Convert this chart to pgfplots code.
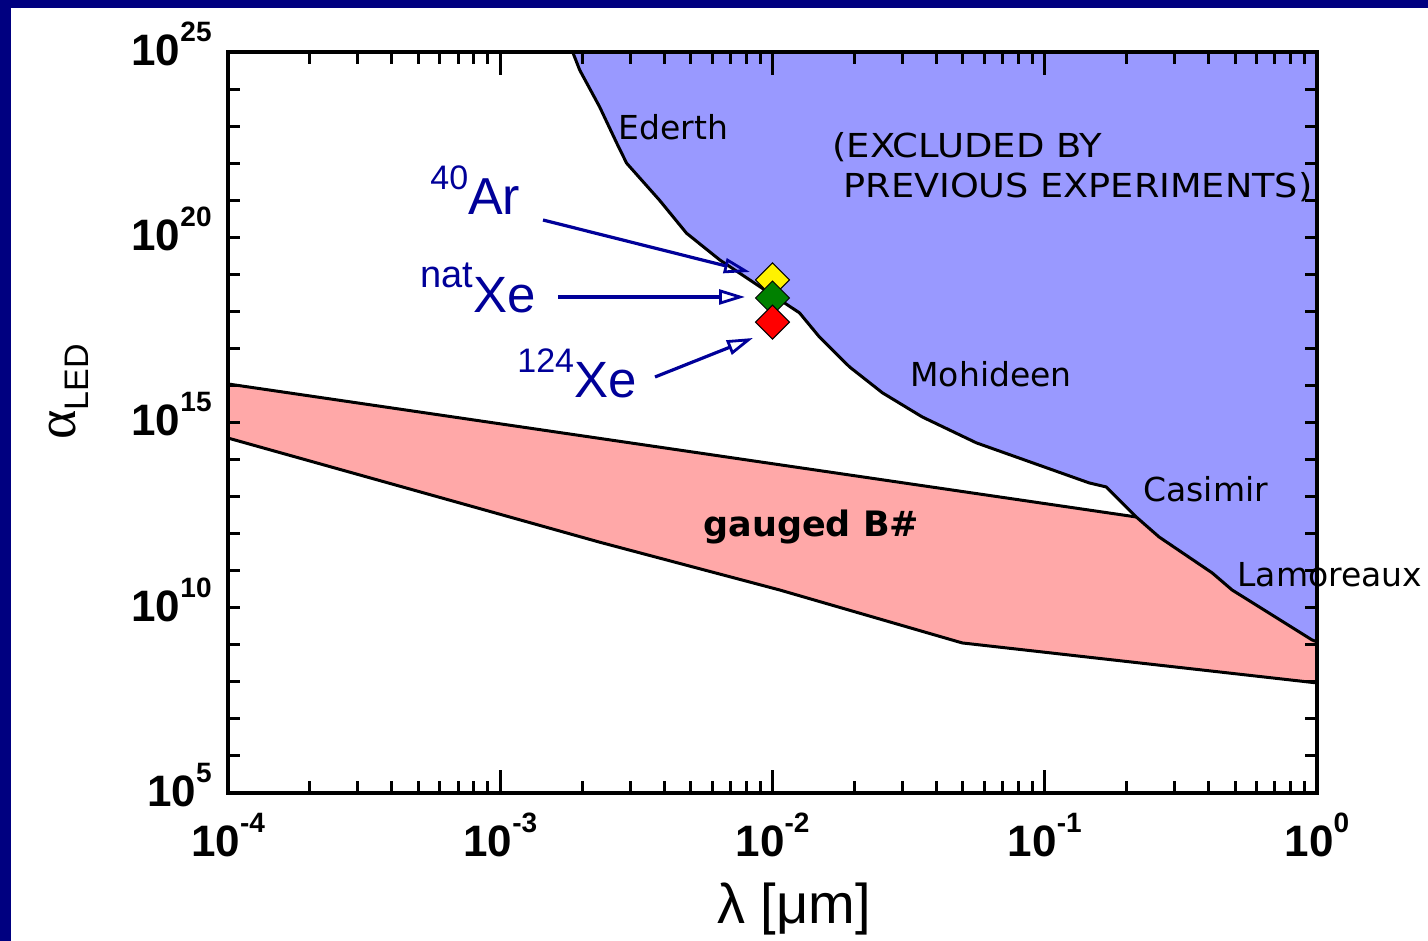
\documentclass[border=0pt]{standalone}
\usepackage{fontspec}
\setmainfont{Liberation Sans}
\newfontfamily\dejavu{DejaVu Sans}
\newfontfamily\lserif{Liberation Serif}
\usepackage{pgfplots}
\pgfplotsset{compat=1.18}
\usetikzlibrary{arrows.meta}
\definecolor{framenavy}{RGB}{0,0,128}
\definecolor{textnavy}{RGB}{0,0,153}
\definecolor{exclblue}{RGB}{153,153,255}
\definecolor{gaugepink}{RGB}{255,168,168}
\definecolor{dgreen}{RGB}{0,128,0}
\newcommand{\tp}[1]{\fontsize{22}{22}\selectfont\bfseries 10\raisebox{12pt}{\fontsize{14}{14}\selectfont #1}}
\begin{document}
\begin{tikzpicture}
\fill[white] (0,0) rectangle (714pt,470.5pt);
\fill[framenavy] (0,466.5pt) rectangle (714pt,470.5pt);
\fill[framenavy] (0,0) rectangle (5.5pt,470.5pt);
\begin{axis}[
  at={(114pt,74pt)}, anchor=south west,
  scale only axis, width=544.5pt, height=370.5pt,
  xmode=log, ymode=log,
  xmin=1e-4, xmax=1, ymin=1e5, ymax=1e25,
  axis on top, clip=false,
  axis line style={line width=2pt},
  every tick/.style={black, line width=1.5pt},
  major tick length=11.5pt, minor tick length=6pt,
  xtick={1e-4,1e-3,1e-2,1e-1,1},
  xticklabels={\tp{-4},\tp{-3},\tp{-2},\tp{-1},\tp{0}},
  minor xtick={2e-4,3e-4,4e-4,5e-4,6e-4,7e-4,8e-4,9e-4,
               2e-3,3e-3,4e-3,5e-3,6e-3,7e-3,8e-3,9e-3,
               2e-2,3e-2,4e-2,5e-2,6e-2,7e-2,8e-2,9e-2,
               0.2,0.3,0.4,0.5,0.6,0.7,0.8,0.9},
  ytick={1e5,1e10,1e15,1e20,1e25},
  yticklabels={\tp{5},\tp{10},\tp{15},\tp{20},\tp{25}},
  major y tick style={draw=none},
  minor ytick={1e6,1e7,1e8,1e9,1e10,1e11,1e12,1e13,1e14,1e15,1e16,1e17,1e18,1e19,1e20,1e21,1e22,1e23,1e24},
  xticklabel style={inner sep=0pt, yshift=-10pt},
  yticklabel style={inner sep=0pt, xshift=-8pt, yshift=4pt},
]
% excluded region
\addplot[draw=none, fill=exclblue] coordinates {
 (1.845e-3,1e25) (1.959e-3,3.236e24) (2.317e-3,3.311e23) (2.679e-3,3.467e22)
 (2.911e-3,1e22) (3.846e-3,1e21) (4.831e-3,1.288e20) (6.397e-3,2.455e19)
 (8.241e-3,7.079e18) (1.256e-2,9.120e17) (1.486e-2,2.042e17) (1.919e-2,3.162e16)
 (2.535e-2,6.310e15) (3.548e-2,1.413e15) (5.610e-2,2.818e14) (0.1455,2.344e13)
 (0.1683,1.820e13) (0.2168,2.818e12) (0.2630,8.128e11) (0.4121,8.710e10)
 (0.4875,3.020e10) (0.9594,1.349e9) (1,1.202e9) (1,1e25)} -- cycle;
% gauged B# band
\addplot[draw=none, fill=gaugepink] coordinates {
 (1e-4,1.096e16) (0.2168,2.818e12) (0.2630,8.128e11) (0.4121,8.710e10)
 (0.4875,3.020e10) (0.9594,1.349e9) (1,1.202e9) (1,9.333e7)
 (0.04977,1.122e9) (0.01062,3.020e10) (2.317e-3,5.888e11) (1e-4,3.802e14)} -- cycle;
% boundary
\addplot[black, line width=1.5pt, line join=round] coordinates {
 (1.845e-3,1e25) (1.959e-3,3.236e24) (2.317e-3,3.311e23) (2.679e-3,3.467e22)
 (2.911e-3,1e22) (3.846e-3,1e21) (4.831e-3,1.288e20) (6.397e-3,2.455e19)
 (8.241e-3,7.079e18) (1.256e-2,9.120e17) (1.486e-2,2.042e17) (1.919e-2,3.162e16)
 (2.535e-2,6.310e15) (3.548e-2,1.413e15) (5.610e-2,2.818e14) (0.1455,2.344e13)
 (0.1683,1.820e13) (0.2168,2.818e12) (0.2630,8.128e11) (0.4121,8.710e10)
 (0.4875,3.020e10) (0.9594,1.349e9) (1,1.202e9)};
\addplot[black, line width=1.5pt] coordinates {(1e-4,1.096e16) (0.2168,2.818e12)};
\addplot[black, line width=1.5pt, line join=round] coordinates {
 (1e-4,3.802e14) (2.317e-3,5.888e11) (0.01062,3.020e10) (0.04977,1.122e9) (1,9.333e7)};
% sensitivities
\addplot[only marks, mark=square*, mark size=6pt, mark options={rotate=45, fill=yellow, draw=black, line width=0.5pt}] coordinates {(0.01,7.079e18)};
\addplot[only marks, mark=square*, mark size=6pt, mark options={rotate=45, fill=dgreen, draw=black, line width=0.5pt}] coordinates {(0.01,2.291e18)};
\addplot[only marks, mark=square*, mark size=6pt, mark options={rotate=45, fill=red, draw=black, line width=0.5pt}] coordinates {(0.01,5.129e17)};
\end{axis}
\begin{scope}[x=0.5pt,y=-0.5pt,shift={(0pt,470.5pt)}]
\draw[textnavy, line width=1.6pt, -{Triangle[open, length=13pt, width=7.5pt, line width=1.4pt]}] (543,220) -- (750,272);
\draw[textnavy, line width=1.6pt, -{Triangle[open, length=13pt, width=7.5pt, line width=1.4pt]}] (558,297) -- (745,297);
\draw[textnavy, line width=1.6pt, -{Triangle[open, length=13pt, width=7.5pt, line width=1.4pt]}] (655,377) -- (753,338);
\node[anchor=base west, inner sep=0, text=textnavy] at (430,215) {\raisebox{12.5pt}{\fontsize{17}{17}\selectfont 40}\fontsize{26}{26}\selectfont Ar};
\node[anchor=base west, inner sep=0, text=textnavy] at (420,313) {\raisebox{12.5pt}{\fontsize{19}{19}\selectfont nat}\fontsize{25.5}{25.5}\selectfont Xe};
\node[anchor=base west, inner sep=0, text=textnavy] at (517,398) {\raisebox{12.5pt}{\fontsize{17}{17}\selectfont 124}\fontsize{25.5}{25.5}\selectfont Xe};
\node[anchor=base west, inner sep=0, font={\dejavu\fontsize{16.5}{19}\selectfont}] at (618,140) {Ederth};
\node[anchor=base west, inner sep=0, xscale=1.12, font={\dejavu\fontsize{16.5}{19}\selectfont}] at (832,158) {(EXCLUDED BY};
\node[anchor=base west, inner sep=0, xscale=1.11, font={\dejavu\fontsize{16.5}{19}\selectfont}] at (843,198) {PREVIOUS EXPERIMENTS)};
\node[anchor=base west, inner sep=0, font={\dejavu\fontsize{16.5}{19}\selectfont}] at (910,387) {Mohideen};
\node[anchor=base west, inner sep=0, font={\dejavu\fontsize{16.5}{19}\selectfont}] at (1143,502) {Casimir};
\node[anchor=base west, inner sep=0, font={\dejavu\fontsize{16.5}{19}\selectfont}] at (1237,587) {Lamoreaux};
\node[anchor=base west, inner sep=0, font={\dejavu\bfseries\fontsize{17.5}{19}\selectfont}] at (703,537) {gauged B\#};
\node[anchor=base west, inner sep=0, font={\fontsize{28}{28}\selectfont}] at (717,924) {λ [μm]};
\node[rotate=90, anchor=base west, inner sep=0] at (75,440) {{\lserif\fontsize{28}{28}\selectfont α}\raisebox{-6.5pt}{\fontsize{17}{17}\selectfont LED}};
\end{scope}
\pgfresetboundingbox
\path[use as bounding box] (0,0) rectangle (714pt,470.5pt);
\end{tikzpicture}
\end{document}
